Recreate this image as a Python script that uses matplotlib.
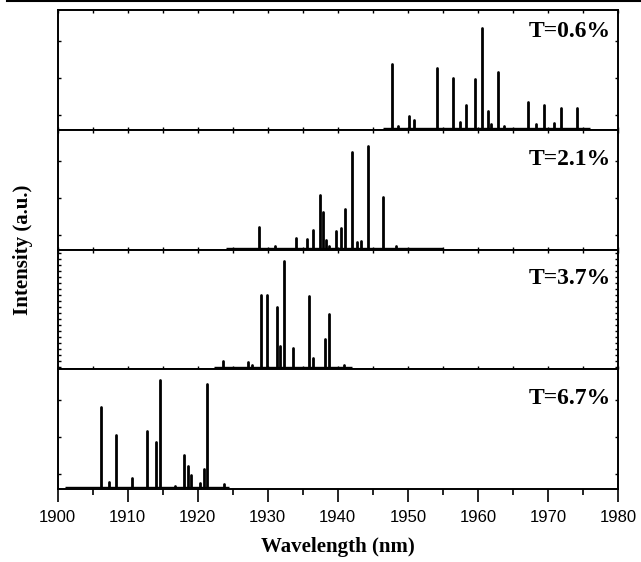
import numpy as np
import matplotlib.pyplot as plt
from matplotlib.lines import Line2D
from matplotlib.ticker import MultipleLocator

labels = ['T=0.6%', 'T=2.1%', 'T=3.7%', 'T=6.7%']

# peak wavelengths (nm) and heights (a.u.)
wl1 = [1947.8, 1948.6, 1950.1, 1950.95, 1954.2, 1956.5, 1957.4, 1958.3, 1959.65,
       1960.6, 1961.4, 1961.9, 1962.9, 1963.7, 1967.1, 1968.35, 1969.5, 1970.8,
       1971.8, 1974.1]
h1 = [63.7, 2, 11.7, 8, 59.7, 49.7, 5.3, 23, 49, 99.7, 17, 4, 56.3, 1.5, 26.3,
      3.3, 22.7, 5, 20, 19.7]

wl2 = [1928.7, 1931.0, 1934.1, 1935.55, 1936.45, 1937.5, 1937.9, 1938.3, 1938.7,
       1939.7, 1940.5, 1941.0, 1942.0, 1942.8, 1943.35, 1944.3, 1946.5, 1948.3]
h2 = [20.6, 1.5, 9.3, 8.3, 17.3, 52.6, 36, 8, 1.5, 17, 19.6, 38.3, 96, 6, 7,
      101.6, 50.3, 2]

wl3 = [1923.6, 1927.2, 1927.7, 1929.0, 1929.95, 1931.3, 1931.75, 1932.3, 1933.6,
       1935.85, 1936.4, 1938.2, 1938.7, 1940.9]
h3 = [6.3, 5, 2, 72.7, 72.3, 60.3, 21, 106.7, 19.7, 71.7, 9, 28.3, 53.3, 2.5]

wl4 = [1906.2, 1907.4, 1908.4, 1910.6, 1912.8, 1914.1, 1914.6, 1916.8, 1918.1,
       1918.6, 1919.1, 1920.4, 1920.85, 1921.4, 1923.7]
h4 = [80, 5.5, 52.5, 9, 56.5, 45.5, 107, 1, 32, 21, 12.5, 4, 18, 103.5, 3]

# spectrum baseline extent per panel (nm)
base = [(1946.5, 1976.0), (1924.0, 1955.0), (1922.3, 1942.0), (1901.0, 1924.5)]

peaks = [(wl1, h1), (wl2, h2), (wl3, h3), (wl4, h4)]
label_y = [0.82, 0.755, 0.755, 0.755]

fig = plt.figure(figsize=(6.41, 5.62), dpi=100)
axes = []
left, right = 57.5 / 641, 618 / 641
top, bot = 1 - 10 / 562, 1 - 489 / 562
ph = (top - bot) / 4
for i in range(4):
    ax = fig.add_axes([left, top - (i + 1) * ph, right - left, ph])
    axes.append(ax)

for i, ax in enumerate(axes):
    wl, h = peaks[i]
    ax.hlines(0, base[i][0], base[i][1], color='black', lw=1.0)
    ax.vlines(wl, 0, h, color='black', lw=2.0, capstyle='round')
    ax.set_xlim(1900, 1980)
    ax.set_ylim(-2, 118)
    ax.set_yticks([13, 50, 87] if i != 2 else [])
    if i == 2:
        ax.yaxis.set_minor_locator(MultipleLocator(6))
    ax.xaxis.set_major_locator(MultipleLocator(10))
    ax.xaxis.set_minor_locator(MultipleLocator(5))
    ax.tick_params(axis='y', which='both', direction='in', length=2, width=1,
                   left=True, right=True, labelleft=False)
    for s in ax.spines.values():
        s.set_linewidth(1.4)
    ax.text(0.988, label_y[i], labels[i], transform=ax.transAxes, ha='right',
            va='center', fontsize=17, fontweight='bold', family='Liberation Serif')
    if i < 3:
        ax.tick_params(axis='x', which='both', direction='in', length=2, width=1,
                       top=True, bottom=True, labelbottom=False)
    else:
        ax.tick_params(axis='x', which='major', direction='out', length=9, width=1.2,
                       top=False, labelsize=12, pad=6)
        ax.tick_params(axis='x', which='minor', direction='out', length=4, width=1.2,
                       top=False)
        for lab in ax.get_xticklabels():
            lab.set_family('Liberation Sans')
        ax.set_xlabel('Wavelength (nm)', fontsize=15, fontweight='bold',
                      family='Liberation Serif', labelpad=9)

fig.text(0.036, (top + bot) / 2, 'Intensity (a.u.)', rotation=90, ha='center',
         va='center', fontsize=15, fontweight='bold', family='Liberation Serif')
fig.add_artist(Line2D([0.011, 1.0], [0.998, 0.998], color='black', lw=1.5))

fig.savefig('out.png', dpi=100)
